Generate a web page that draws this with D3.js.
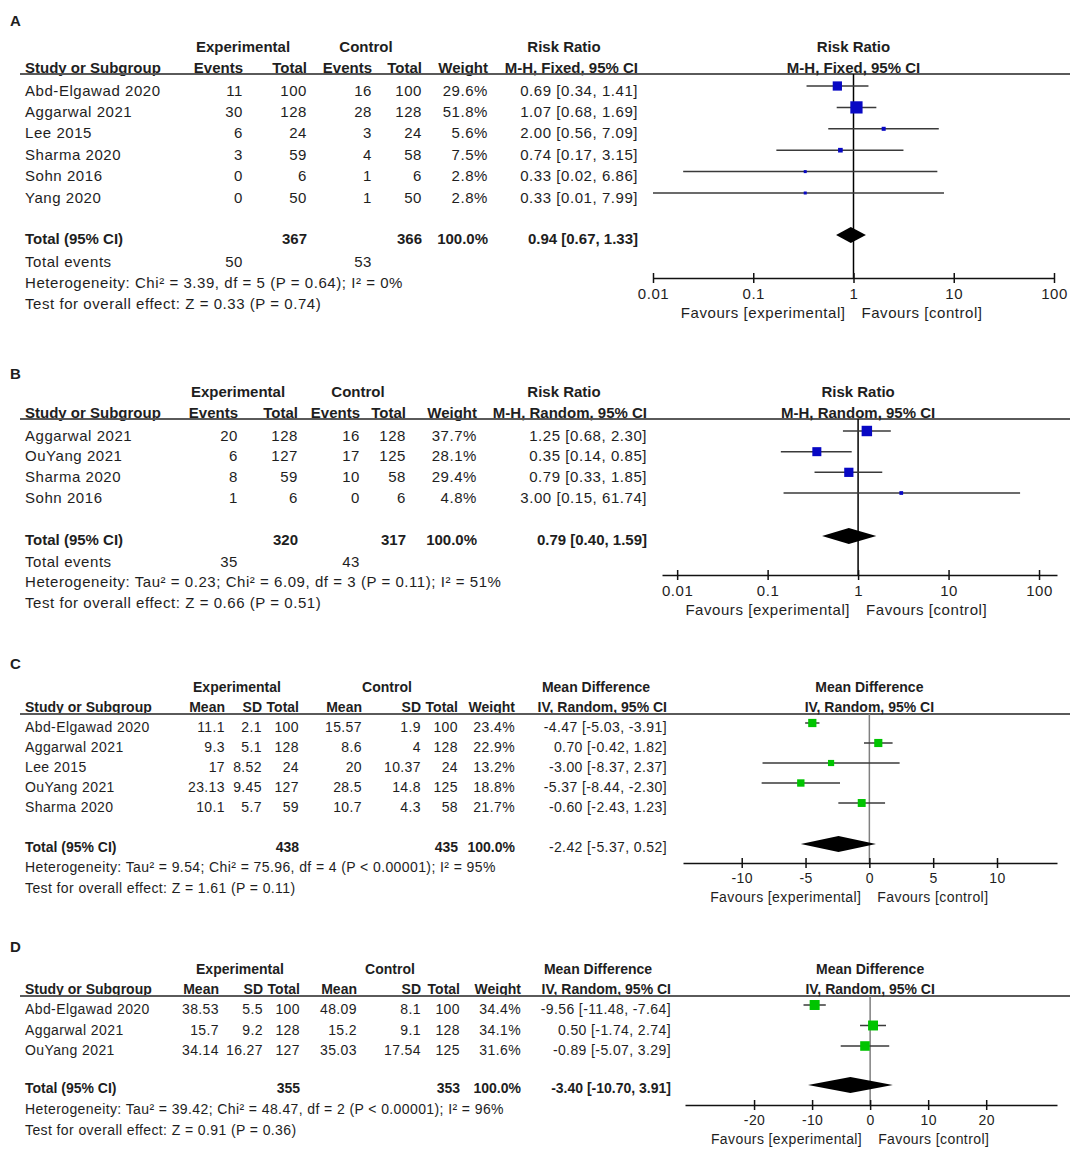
<!DOCTYPE html>
<html>
<head>
<meta charset="utf-8">
<script src="https://cdn.jsdelivr.net/npm/d3@7"></script>
<style>
  body { margin: 0; background: #fff; }
  svg text { font-family: "Liberation Sans", Arial, sans-serif; fill: #1e1e1e; }
</style>
</head>
<body>
<svg id="chart"></svg>
<script>
// ---- Panel A: risk ratio, fixed effect
const studiesA = ["Abd-Elgawad 2020", "Aggarwal 2021", "Lee 2015", "Sharma 2020", "Sohn 2016", "Yang 2020"];
const expEventsA = [11, 30, 6, 3, 0, 0];
const expTotalA = [100, 128, 24, 59, 6, 50];
const ctlEventsA = [16, 28, 3, 4, 1, 1];
const ctlTotalA = [100, 128, 24, 58, 6, 50];
const weightA = [29.6, 51.8, 5.6, 7.5, 2.8, 2.8];
const estA = [0.69, 1.07, 2.00, 0.74, 0.33, 0.33];
const loA = [0.34, 0.68, 0.56, 0.17, 0.02, 0.01];
const hiA = [1.41, 1.69, 7.09, 3.15, 6.86, 7.99];
const totalNA = [367, 366];
const totalEventsA = [50, 53];
const pooledA = [0.94, 0.67, 1.33];
const hetA = "Heterogeneity: Chi² = 3.39, df = 5 (P = 0.64); I² = 0%";
const testA = "Test for overall effect: Z = 0.33 (P = 0.74)";

// ---- Panel B: risk ratio, random effects
const studiesB = ["Aggarwal 2021", "OuYang 2021", "Sharma 2020", "Sohn 2016"];
const expEventsB = [20, 6, 8, 1];
const expTotalB = [128, 127, 59, 6];
const ctlEventsB = [16, 17, 10, 0];
const ctlTotalB = [128, 125, 58, 6];
const weightB = [37.7, 28.1, 29.4, 4.8];
const estB = [1.25, 0.35, 0.79, 3.00];
const loB = [0.68, 0.14, 0.33, 0.15];
const hiB = [2.30, 0.85, 1.85, 61.74];
const totalNB = [320, 317];
const totalEventsB = [35, 43];
const pooledB = [0.79, 0.40, 1.59];
const hetB = "Heterogeneity: Tau² = 0.23; Chi² = 6.09, df = 3 (P = 0.11); I² = 51%";
const testB = "Test for overall effect: Z = 0.66 (P = 0.51)";

// ---- Panel C: mean difference
const studiesC = ["Abd-Elgawad 2020", "Aggarwal 2021", "Lee 2015", "OuYang 2021", "Sharma 2020"];
const expMeanC = [11.1, 9.3, 17, 23.13, 10.1];
const expSdC = [2.1, 5.1, 8.52, 9.45, 5.7];
const expTotalC = [100, 128, 24, 127, 59];
const ctlMeanC = [15.57, 8.6, 20, 28.5, 10.7];
const ctlSdC = [1.9, 4, 10.37, 14.8, 4.3];
const ctlTotalC = [100, 128, 24, 125, 58];
const weightC = [23.4, 22.9, 13.2, 18.8, 21.7];
const estC = [-4.47, 0.70, -3.00, -5.37, -0.60];
const loC = [-5.03, -0.42, -8.37, -8.44, -2.43];
const hiC = [-3.91, 1.82, 2.37, -2.30, 1.23];
const totalNC = [438, 435];
const pooledC = [-2.42, -5.37, 0.52];
const hetC = "Heterogeneity: Tau² = 9.54; Chi² = 75.96, df = 4 (P < 0.00001); I² = 95%";
const testC = "Test for overall effect: Z = 1.61 (P = 0.11)";

// ---- Panel D: mean difference
const studiesD = ["Abd-Elgawad 2020", "Aggarwal 2021", "OuYang 2021"];
const expMeanD = [38.53, 15.7, 34.14];
const expSdD = [5.5, 9.2, 16.27];
const expTotalD = [100, 128, 127];
const ctlMeanD = [48.09, 15.2, 35.03];
const ctlSdD = [8.1, 9.1, 17.54];
const ctlTotalD = [100, 128, 125];
const weightD = [34.4, 34.1, 31.6];
const estD = [-9.56, 0.50, -0.89];
const loD = [-11.48, -1.74, -5.07];
const hiD = [-7.64, 2.74, 3.29];
const totalND = [355, 353];
const pooledD = [-3.40, -10.70, 3.91];
const hetD = "Heterogeneity: Tau² = 39.42; Chi² = 48.47, df = 2 (P < 0.00001); I² = 96%";
const testD = "Test for overall effect: Z = 0.91 (P = 0.36)";

const ticksRR = [0.01, 0.1, 1, 10, 100];
const ticksC = [-10, -5, 0, 5, 10];
const ticksD = [-20, -10, 0, 10, 20];

const width = 1084, height = 1160;
const svg = d3.select("#chart").attr("width", width).attr("height", height);

const fmtCI = (e, l, h) => `${e.toFixed(2)} [${l.toFixed(2)}, ${h.toFixed(2)}]`;
const pct = w => w.toFixed(1) + "%";
const sizeScale = d3.scaleSqrt().domain([0, 100]).range([0, 17]);

function drawPanel(p) {
  const g = svg.append("g");
  const y = d3.scalePoint().domain(p.studies).range(p.rows);

  // small helper, bold text gets no extra spacing
  const txt = (x, ty, t, anchor, bold) => g.append("text")
    .attr("x", x).attr("y", ty)
    .attr("dominant-baseline", "central")
    .attr("text-anchor", anchor || "start")
    .style("font-size", p.fs + "px")
    .style("letter-spacing", bold ? "0px" : p.ls + "px")
    .style("font-weight", bold ? "bold" : null)
    .text(t);

  txt(10, p.top, p.letter, "start", true).style("font-size", "15px");

  p.groups.forEach(([label, gx]) => txt(gx, p.h1, label, "middle", true));

  txt(25, p.h2, "Study or Subgroup", "start", true);
  p.studies.forEach(s => txt(25, y(s), s));
  p.cols.forEach(c => {
    txt(c.x, p.h2, c.head, "end", true);
    c.values.forEach((v, i) => txt(c.x, y(p.studies[i]), v, "end"));
  });

  g.append("line")
    .attr("x1", 20).attr("x2", 1070).attr("y1", p.rule).attr("y2", p.rule)
    .attr("stroke", "#5a5a5a").attr("stroke-width", 2);

  txt(25, p.totalY, "Total (95% CI)", "start", true);
  p.totals.forEach(t => txt(t.x, p.totalY, t.text, "end", t.bold !== false));
  if (p.events) {
    txt(25, p.eventsY, "Total events");
    p.events.forEach(t => txt(t.x, p.eventsY, t.text, "end"));
  }
  txt(25, p.hetY, p.het);
  txt(25, p.testY, p.test);

  // forest plot
  const x = (p.log ? d3.scaleLog() : d3.scaleLinear()).domain(p.extent).range(p.plotRange);
  const x0 = x(p.nullValue);
  txt(x0, p.h1, p.plotTitle[0], "middle", true);
  txt(x0, p.h2, p.plotTitle[1], "middle", true);

  g.append("line")
    .attr("x1", x0).attr("x2", x0).attr("y1", p.rule).attr("y2", p.axisY)
    .attr("stroke", p.nullColor).attr("stroke-width", 1.5);

  const marks = g.append("g");
  p.studies.forEach((s, i) => {
    const cy = y(s) - 4;
    marks.append("line")
      .attr("x1", x(p.lo[i])).attr("x2", x(p.hi[i]))
      .attr("y1", cy).attr("y2", cy)
      .attr("stroke", "#3a3a3a").attr("stroke-width", 1.5);
    const sz = Math.max(3, sizeScale(p.weight[i]));
    marks.append("rect")
      .attr("x", x(p.est[i]) - sz / 2).attr("y", cy - sz / 2)
      .attr("width", sz).attr("height", sz)
      .attr("fill", p.color);
  });

  const dy = p.totalY - 3, dh = 8;
  const [pe, pl, ph] = p.pooled;
  g.append("path")
    .attr("d", `M${x(pl)},${dy}L${x(pe)},${dy - dh}L${x(ph)},${dy}L${x(pe)},${dy + dh}Z`)
    .attr("fill", "#000");

  const axis = d3.axisBottom(x)
    .tickValues(p.ticks)
    .tickFormat(d => String(d))
    .tickSizeOuter(0)
    .tickSizeInner(5);
  const ax = g.append("g")
    .attr("transform", `translate(0,${p.axisY})`)
    .style("color", "#111")
    .call(axis);
  ax.select(".domain").attr("stroke-width", 1.5);
  ax.selectAll(".tick line").attr("y1", -5).attr("y2", 5).attr("stroke-width", 1.5);
  ax.selectAll(".tick text")
    .attr("y", 15).attr("dy", null).attr("dominant-baseline", "central")
    .style("font-size", p.fs + "px").style("letter-spacing", p.ls + "px");

  txt(x0 - 8, p.axisY + 34, "Favours [experimental]", "end");
  txt(x0 + 8, p.axisY + 34, "Favours [control]", "start");
}

drawPanel({
  letter: "A", top: 20, h1: 46, h2: 67, rule: 74, rows: [90, 197], fs: 15, ls: 0.55,
  totalY: 238, eventsY: 261, hetY: 282, testY: 303, axisY: 278,
  studies: studiesA,
  groups: [["Experimental", 243], ["Control", 366], ["Risk Ratio", 564]],
  cols: [
    { head: "Events", x: 243, values: expEventsA },
    { head: "Total", x: 307, values: expTotalA },
    { head: "Events", x: 372, values: ctlEventsA },
    { head: "Total", x: 422, values: ctlTotalA },
    { head: "Weight", x: 488, values: weightA.map(pct) },
    { head: "M-H, Fixed, 95% CI", x: 638, values: estA.map((e, i) => fmtCI(e, loA[i], hiA[i])) }
  ],
  totals: [
    { x: 307, text: totalNA[0] }, { x: 422, text: totalNA[1] },
    { x: 488, text: "100.0%" }, { x: 638, text: fmtCI(...pooledA) }
  ],
  events: [{ x: 243, text: totalEventsA[0] }, { x: 372, text: totalEventsA[1] }],
  het: hetA, test: testA,
  log: true, extent: [0.01, 100], plotRange: [653, 1054], nullValue: 1,
  ticks: ticksRR, plotTitle: ["Risk Ratio", "M-H, Fixed, 95% CI"],
  nullColor: "#000", color: "#0808c4",
  est: estA, lo: loA, hi: hiA, weight: weightA, pooled: pooledA
});

drawPanel({
  letter: "B", top: 373, h1: 391, h2: 412, rule: 419, rows: [435, 497], fs: 15, ls: 0.55,
  totalY: 539, eventsY: 561, hetY: 581, testY: 602, axisY: 575,
  studies: studiesB,
  groups: [["Experimental", 238], ["Control", 358], ["Risk Ratio", 564]],
  cols: [
    { head: "Events", x: 238, values: expEventsB },
    { head: "Total", x: 298, values: expTotalB },
    { head: "Events", x: 360, values: ctlEventsB },
    { head: "Total", x: 406, values: ctlTotalB },
    { head: "Weight", x: 477, values: weightB.map(pct) },
    { head: "M-H, Random, 95% CI", x: 647, values: estB.map((e, i) => fmtCI(e, loB[i], hiB[i])) }
  ],
  totals: [
    { x: 298, text: totalNB[0] }, { x: 406, text: totalNB[1] },
    { x: 477, text: "100.0%" }, { x: 647, text: fmtCI(...pooledB) }
  ],
  events: [{ x: 238, text: totalEventsB[0] }, { x: 360, text: totalEventsB[1] }],
  het: hetB, test: testB,
  log: true, extent: [0.0068, 158], plotRange: [662, 1057], nullValue: 1,
  ticks: ticksRR, plotTitle: ["Risk Ratio", "M-H, Random, 95% CI"],
  nullColor: "#000", color: "#0808c4",
  est: estB, lo: loB, hi: hiB, weight: weightB, pooled: pooledB
});

drawPanel({
  letter: "C", top: 663, h1: 687, h2: 707, rule: 714, rows: [727, 807], fs: 14, ls: 0.4,
  totalY: 847, hetY: 867, testY: 888, axisY: 863,
  studies: studiesC,
  groups: [["Experimental", 237], ["Control", 387], ["Mean Difference", 596]],
  cols: [
    { head: "Mean", x: 225, values: expMeanC },
    { head: "SD", x: 262, values: expSdC },
    { head: "Total", x: 299, values: expTotalC },
    { head: "Mean", x: 362, values: ctlMeanC },
    { head: "SD", x: 421, values: ctlSdC },
    { head: "Total", x: 458, values: ctlTotalC },
    { head: "Weight", x: 515, values: weightC.map(pct) },
    { head: "IV, Random, 95% CI", x: 667, values: estC.map((e, i) => fmtCI(e, loC[i], hiC[i])) }
  ],
  totals: [
    { x: 299, text: totalNC[0] }, { x: 458, text: totalNC[1] },
    { x: 515, text: "100.0%" }, { x: 667, text: fmtCI(...pooledC), bold: false }
  ],
  het: hetC, test: testC,
  log: false, extent: [-14.6, 14.7], plotRange: [683, 1057], nullValue: 0,
  ticks: ticksC, plotTitle: ["Mean Difference", "IV, Random, 95% CI"],
  nullColor: "#808080", color: "#00c400",
  est: estC, lo: loC, hi: hiC, weight: weightC, pooled: pooledC
});

drawPanel({
  letter: "D", top: 946, h1: 969, h2: 989, rule: 996, rows: [1009, 1050], fs: 14, ls: 0.4,
  totalY: 1088, hetY: 1109, testY: 1130, axisY: 1105,
  studies: studiesD,
  groups: [["Experimental", 240], ["Control", 390], ["Mean Difference", 598]],
  cols: [
    { head: "Mean", x: 219, values: expMeanD },
    { head: "SD", x: 263, values: expSdD },
    { head: "Total", x: 300, values: expTotalD },
    { head: "Mean", x: 357, values: ctlMeanD },
    { head: "SD", x: 421, values: ctlSdD },
    { head: "Total", x: 460, values: ctlTotalD },
    { head: "Weight", x: 521, values: weightD.map(pct) },
    { head: "IV, Random, 95% CI", x: 671, values: estD.map((e, i) => fmtCI(e, loD[i], hiD[i])) }
  ],
  totals: [
    { x: 300, text: totalND[0] }, { x: 460, text: totalND[1] },
    { x: 521, text: "100.0%" }, { x: 671, text: fmtCI(...pooledD) }
  ],
  het: hetD, test: testD,
  log: false, extent: [-31.9, 32.2], plotRange: [685, 1057], nullValue: 0,
  ticks: ticksD, plotTitle: ["Mean Difference", "IV, Random, 95% CI"],
  nullColor: "#808080", color: "#00c400",
  est: estD, lo: loD, hi: hiD, weight: weightD, pooled: pooledD
});
</script>
</body>
</html>
